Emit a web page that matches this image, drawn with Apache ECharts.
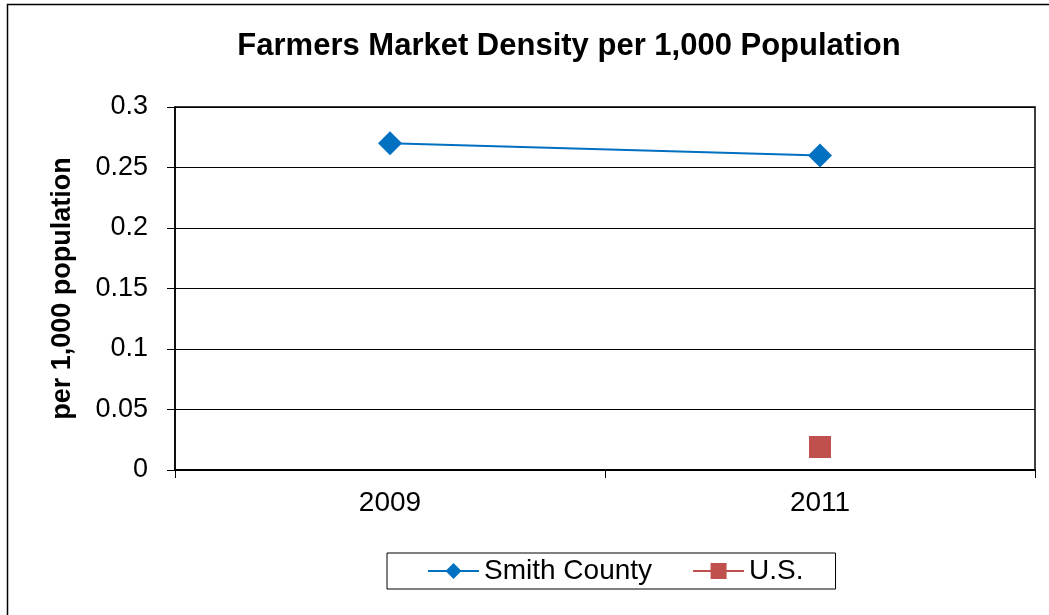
<!DOCTYPE html>
<html><head><meta charset="utf-8">
<script src="https://cdn.jsdelivr.net/npm/echarts@6/dist/echarts.min.js"></script>
<style>html,body{margin:0;padding:0;background:#fff}#c{width:1049px;height:615px}</style>
</head><body><div id="c"></div>
<script>
const categories = ['2009', '2011'];
const smithCounty = [0.27, 0.26];
const us = [null, 0.019];
const yTicks = [0, 0.05, 0.1, 0.15, 0.2, 0.25, 0.3];

const chart = echarts.init(document.getElementById('c'));
const font = 'Liberation Sans, Arial, sans-serif';
chart.setOption({
  backgroundColor: '#fff',
  animation: false,
  title: {
    text: 'Farmers Market Density per 1,000 Population',
    left: 569, top: 31, textAlign: 'center', padding: 0,
    textStyle: {fontFamily: font, fontSize: 31, fontWeight: 'bold', color: '#000'}
  },
  graphic: [{
    type: 'rect', shape: {x: 7.5, y: 4.5, width: 1100, height: 700},
    style: {fill: null, stroke: '#000', lineWidth: 1.5}, silent: true
  }],
  legend: {
    left: 387, top: 553,
    padding: [4, 32, 4, 40],
    itemGap: 40,
    itemWidth: 51, itemHeight: 20,
    borderColor: '#000', borderWidth: 1,
    textStyle: {fontFamily: font, fontSize: 28, color: '#000'},
    data: ['Smith County', 'U.S.']
  },
  grid: {left: 175, right: 14, top: 107, bottom: 145, show: true, borderColor: '#000', borderWidth: 1.5, backgroundColor: 'transparent'},
  xAxis: {
    type: 'category', data: categories, boundaryGap: true,
    axisLine: {lineStyle: {color: '#000', width: 2}},
    axisTick: {show: true, length: 8, lineStyle: {color: '#000'}},
    axisLabel: {fontFamily: font, fontSize: 28, color: '#000', margin: 19}
  },
  yAxis: {
    type: 'value', min: 0, max: 0.3, interval: 0.05,
    name: 'per 1,000 population', nameLocation: 'middle', nameGap: 99, nameRotate: 90,
    nameTextStyle: {fontFamily: font, fontSize: 27, fontWeight: 'bold', color: '#000'},
    axisLine: {show: true, lineStyle: {color: '#000', width: 1.5}},
    axisTick: {show: true, length: 8, lineStyle: {color: '#000'}},
    axisLabel: {fontFamily: font, fontSize: 27, color: '#000', margin: 27,
      formatter: v => { const t = yTicks.find(x => Math.abs(x - v) < 1e-9); return String(+(t ?? v).toFixed(2)); }},
    splitLine: {show: true, lineStyle: {color: '#000', width: 1}}
  },
  series: [{
    name: 'Smith County', type: 'line', data: smithCounty,
    symbol: 'diamond', symbolSize: 24,
    itemStyle: {color: '#0070C0'}, lineStyle: {color: '#0070C0', width: 2}
  }, {
    name: 'U.S.', type: 'line', data: us,
    symbol: 'rect', symbolSize: 22,
    itemStyle: {color: '#C0504D'}, lineStyle: {color: '#C0504D', width: 2}
  }]
});
</script></body></html>
